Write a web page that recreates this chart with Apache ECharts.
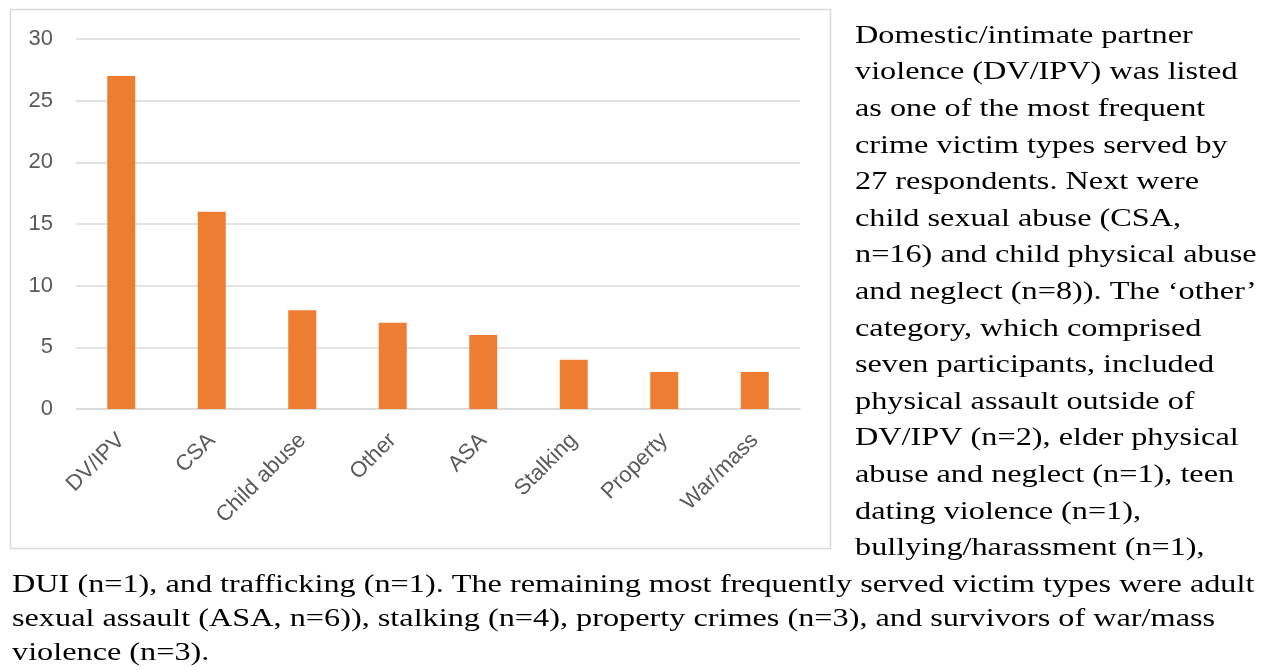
<!DOCTYPE html>
<html>
<head>
<meta charset="utf-8">
<script src="https://cdn.jsdelivr.net/npm/echarts@6/dist/echarts.min.js"></script>
<style>
html,body{margin:0;padding:0;background:#fff;}
#chart{width:1265px;height:670px;}
</style>
</head>
<body>
<div id="chart"></div>
<script>
const categories = ['DV/IPV','CSA','Child abuse','Other','ASA','Stalking','Property','War/mass'];
const values = [27,16,8,7,6,4,3,3];
const yTicks = [0,5,10,15,20,25,30];

const sideLines = [
  'Domestic/intimate partner',
  'violence (DV/IPV) was listed',
  'as one of the most frequent',
  'crime victim types served by',
  '27 respondents. Next were',
  'child sexual abuse (CSA,',
  'n=16) and child physical abuse',
  'and neglect (n=8)). The \u2018other\u2019',
  'category, which comprised',
  'seven participants, included',
  'physical assault outside of',
  'DV/IPV (n=2), elder physical',
  'abuse and neglect (n=1), teen',
  'dating violence (n=1),',
  'bullying/harassment (n=1),'
];
const bottomLines = [
  'DUI (n=1), and trafficking (n=1). The remaining most frequently served victim types were adult',
  'sexual assault (ASA, n=6)), stalking (n=4), property crimes (n=3), and survivors of war/mass',
  'violence (n=3).'
];

const serifFont = '25.5px "Liberation Serif", "Times New Roman", serif';
const stretch = 1.265;
const graphics = [
  {type:'rect', shape:{x:10.5,y:9.5,width:820,height:539}, style:{fill:'none', stroke:'#d9d9d9', lineWidth:1.5}, z:-1}
];
sideLines.forEach((t,i)=>{
  graphics.push({type:'text', x:855, y:36 + i*36.6, scaleX:stretch, style:{text:t, font:serifFont, fill:'#000', textAlign:'left', textVerticalAlign:'middle'}});
});
bottomLines.forEach((t,i)=>{
  graphics.push({type:'text', x:12, y:585 + i*34, scaleX:stretch, style:{text:t, font:serifFont, fill:'#000', textAlign:'left', textVerticalAlign:'middle'}});
});

const chart = echarts.init(document.getElementById('chart'));
chart.setOption({
  animation:false,
  backgroundColor:'#fff',
  grid:{left:76, right:465, top:39, bottom:261, containLabel:false},
  xAxis:{
    type:'category', data:categories,
    axisLine:{lineStyle:{color:'#d9d9d9', width:1.5}},
    axisTick:{show:false},
    axisLabel:{rotate:45, margin:28, color:'#595959', fontSize:22, fontFamily:'"Liberation Sans", Arial, sans-serif', interval:0}
  },
  yAxis:{
    type:'value', min:yTicks[0], max:yTicks[yTicks.length-1], interval:5,
    axisLine:{show:false}, axisTick:{show:false},
    splitLine:{lineStyle:{color:'#d9d9d9', width:1.5}},
    axisLabel:{margin:23, color:'#595959', fontSize:22, fontFamily:'"Liberation Sans", Arial, sans-serif'}
  },
  series:[{type:'bar', data:values, barWidth:28, itemStyle:{color:'#ED7D31'}}],
  graphic:graphics
});
</script>
</body>
</html>
